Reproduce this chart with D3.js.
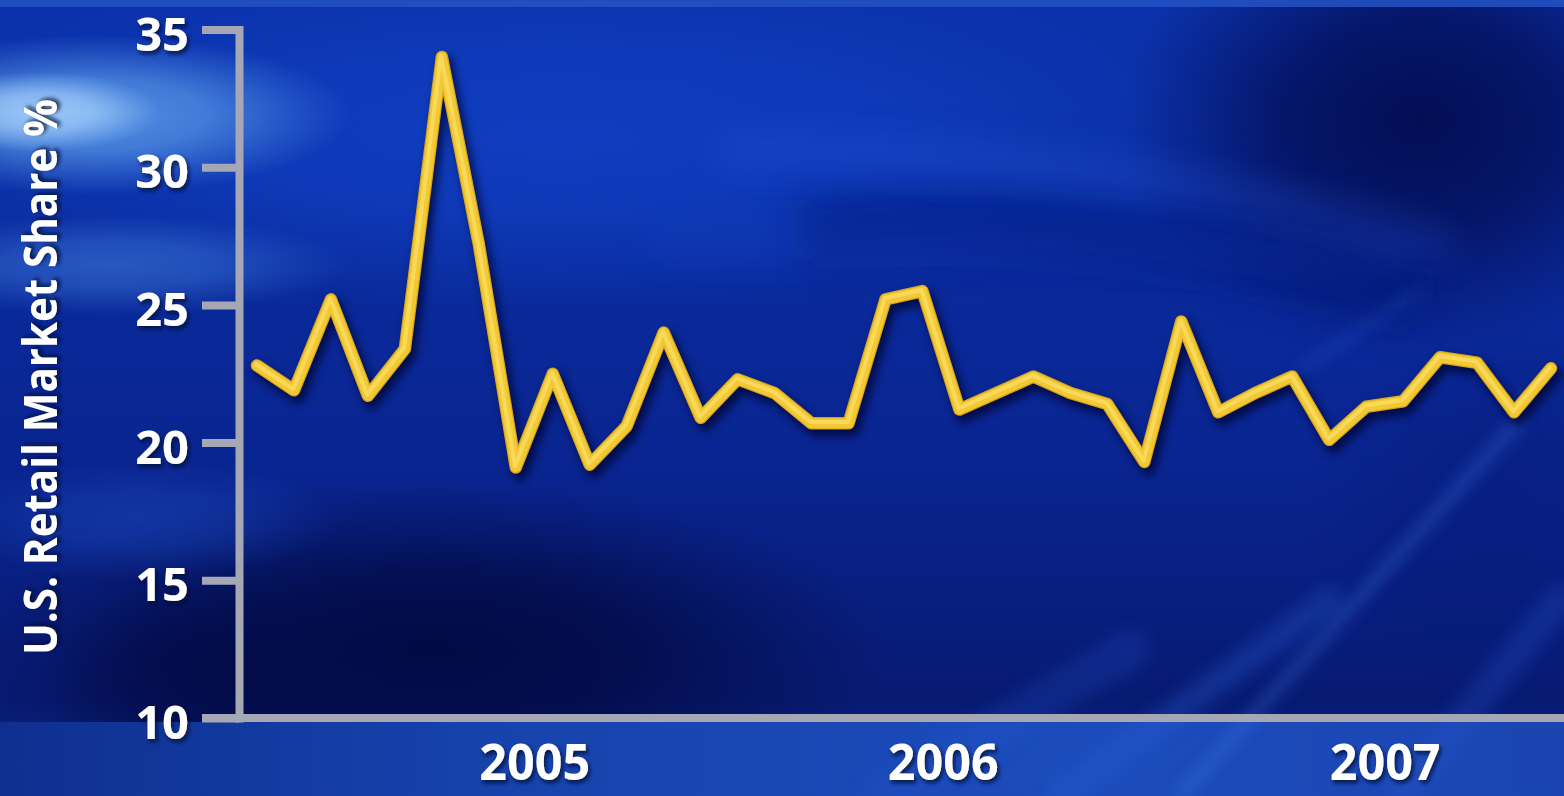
<!DOCTYPE html>
<html>
<head>
<meta charset="utf-8">
<script src="https://cdn.jsdelivr.net/npm/d3@7"></script>
<style>
  html, body { margin: 0; padding: 0; background: #0a2796; }
  svg { display: block; }
  text { font-family: "Open Sans", "DejaVu Sans", sans-serif; font-weight: 700; fill: #ffffff; }
</style>
</head>
<body>
<svg id="chart" width="1564" height="796"></svg>
<script>
// Monthly U.S. retail market share, three years of monthly readings
const shareValues = [
  22.8, 21.9, 25.2, 21.7, 23.4, 34.0, 27.2, 19.1, 22.5, 19.2, 20.6, 24.0,
  20.9, 22.3, 21.8, 20.7, 20.7, 25.2, 25.5, 21.2, 21.8, 22.4, 21.8, 21.4,
  19.3, 24.4, 21.1, 21.8, 22.4, 20.1, 21.3, 21.5, 23.1, 22.9, 21.1, 22.7
];
const yTicks = [10, 15, 20, 25, 30, 35];
const yearLabels = ["2005", "2006", "2007"];
// month index (fractional) where each year label sits
const yearLabelAt = [7.5, 18.55, 30.5];
const yAxisTitle = "U.S. Retail Market Share %";

const W = 1564, H = 796;
const svg = d3.select("#chart");
const defs = svg.append("defs");

// ---------- filters ----------
function blur(id, sd) {
  defs.append("filter").attr("id", id)
    .attr("filterUnits", "userSpaceOnUse")
    .attr("x", -200).attr("y", -200).attr("width", W + 400).attr("height", H + 400)
    .append("feGaussianBlur").attr("stdDeviation", sd);
}
blur("b18", 18); blur("b8", 8); blur("b4", 4);

const ts = defs.append("filter").attr("id", "textShadow")
  .attr("x", "-20%").attr("y", "-20%").attr("width", "140%").attr("height", "140%");
ts.append("feDropShadow").attr("dx", 2).attr("dy", 3).attr("stdDeviation", 2)
  .attr("flood-color", "#000a30").attr("flood-opacity", 0.85);

// ---------- background ----------
const baseGrad = defs.append("linearGradient").attr("id", "baseGrad")
  .attr("x1", 0).attr("y1", 0).attr("x2", 0).attr("y2", 1);
[[0, "#0b32ac"], [0.3, "#0a2b9e"], [0.6, "#09248f"], [0.88, "#071a72"], [1, "#0a2a88"]]
  .forEach(([o, c]) => baseGrad.append("stop").attr("offset", o).attr("stop-color", c));

const bg = svg.append("g").attr("class", "background");
bg.append("rect").attr("width", W).attr("height", H).attr("fill", "url(#baseGrad)");

// soft elliptical glows / shadows drawn with radial gradients
let blobId = 0;
function softBlob(cx, cy, rx, ry, color, opacity) {
  const id = "blob" + (blobId++);
  const g = defs.append("radialGradient").attr("id", id);
  g.append("stop").attr("offset", 0).attr("stop-color", color).attr("stop-opacity", opacity);
  g.append("stop").attr("offset", 0.45).attr("stop-color", color).attr("stop-opacity", opacity * 0.75);
  g.append("stop").attr("offset", 0.8).attr("stop-color", color).attr("stop-opacity", opacity * 0.25);
  g.append("stop").attr("offset", 1).attr("stop-color", color).attr("stop-opacity", 0);
  bg.append("ellipse").attr("cx", cx).attr("cy", cy).attr("rx", rx).attr("ry", ry)
    .attr("fill", `url(#${id})`);
}

// brighter band across the upper plot
softBlob(560, 140, 720, 170, "#1142c8", 0.75);
// dark pocket in the upper right
softBlob(1420, 120, 300, 230, "#020a4c", 0.9);
// deep shadow in the lower left of the plot
softBlob(430, 650, 460, 170, "#02083e", 0.9);
softBlob(200, 680, 160, 100, "#030a46", 0.7);
// dim right side of the plot
softBlob(1500, 520, 200, 200, "#061a78", 0.5);

// darker sweep below the swoosh
bg.append("path").attr("d", "M800,230 Q1100,205 1420,300")
  .attr("fill", "none").attr("stroke", "#061878").attr("stroke-width", 60)
  .attr("opacity", 0.5).attr("filter", "url(#b18)");
// light swoosh curving to the right
bg.append("path").attr("d", "M720,150 Q1150,150 1450,250")
  .attr("fill", "none").attr("stroke", "#2b5ddc").attr("stroke-width", 22)
  .attr("opacity", 0.4).attr("filter", "url(#b18)");
bg.append("path").attr("d", "M650,245 Q1050,235 1400,260")
  .attr("fill", "none").attr("stroke", "#1e4cd0").attr("stroke-width", 18)
  .attr("opacity", 0.3).attr("filter", "url(#b18)");

// left column glow and horizontal light streaks
softBlob(90, 115, 260, 80, "#5a9ae8", 0.9);
softBlob(40, 112, 120, 40, "#b0d8ff", 0.8);
softBlob(110, 265, 240, 50, "#3f7ddc", 0.55);
softBlob(140, 520, 200, 60, "#1c4bc0", 0.45);

// lower strip beneath the baseline
const stripGrad = defs.append("linearGradient").attr("id", "stripGrad")
  .attr("x1", 0).attr("y1", 0).attr("x2", 1).attr("y2", 0);
[[0, "#0f2f90"], [0.3, "#1642ac"], [0.7, "#1c4cbc"], [1, "#1a45b0"]]
  .forEach(([o, c]) => stripGrad.append("stop").attr("offset", o).attr("stop-color", c));
bg.append("rect").attr("x", 0).attr("y", 722).attr("width", W).attr("height", 74)
  .attr("fill", "url(#stripGrad)");

// diagonal light streaks in the lower right
const streaks = [
  { d: "M1180,796 L1520,420", w: 8, c: "#3e78e6", o: 0.5 },
  { d: "M1060,796 L1330,600", w: 26, c: "#2b60d8", o: 0.3 },
  { d: "M1300,370 L1420,290", w: 6, c: "#3a6ee0", o: 0.35 },
  { d: "M880,796 L1130,650", w: 40, c: "#2555cc", o: 0.22 },
  { d: "M1400,796 L1560,600", w: 30, c: "#2a5ad4", o: 0.25 }
];
streaks.forEach(s => bg.append("path").attr("d", s.d).attr("fill", "none")
  .attr("stroke", s.c).attr("stroke-width", s.w).attr("opacity", s.o)
  .attr("stroke-linecap", "round").attr("filter", "url(#b8)"));

// thin brighter band along the top edge
bg.append("rect").attr("x", 0).attr("y", 0).attr("width", W).attr("height", 7)
  .attr("fill", "#2553c4").attr("opacity", 0.85);

// ---------- scales ----------
const x = d3.scaleLinear().domain([0, shareValues.length - 1]).range([257, 1551]);
const y = d3.scaleLinear().domain([10, 35]).range([718, 29.5]);
const axisX = 239;
const axisColor = "#a5a8b4";

// ---------- axes ----------
const yAxis = d3.axisLeft(y).tickValues(yTicks).tickSize(37).tickSizeOuter(0).tickPadding(13);
const gy = svg.append("g").attr("transform", `translate(${axisX},0)`).call(yAxis);
gy.select(".domain").attr("stroke", axisColor).attr("stroke-width", 8).attr("stroke-linecap", "square");
gy.selectAll(".tick line").attr("stroke", axisColor).attr("stroke-width", 8);
gy.selectAll(".tick text")
  .attr("fill", "#ffffff").attr("font-size", 47).attr("dy", "0.44em")
  .attr("font-family", null).attr("filter", "url(#textShadow)");

// baseline running out to the right edge
svg.append("line")
  .attr("x1", axisX - 37).attr("x2", W).attr("y1", y(10)).attr("y2", y(10))
  .attr("stroke", axisColor).attr("stroke-width", 8);

const xAxis = d3.axisBottom(x).tickValues(yearLabelAt)
  .tickFormat((d, i) => yearLabels[i]).tickSize(0).tickPadding(27);
const gx = svg.append("g").attr("transform", `translate(0,${y(10)})`).call(xAxis);
gx.select(".domain").remove();
gx.selectAll(".tick text")
  .attr("fill", "#ffffff").attr("font-size", 50).attr("font-family", null)
  .attr("transform", "scale(0.97,1)").attr("filter", "url(#textShadow)");

// rotated axis title
svg.append("text")
  .attr("transform", "translate(57,377) rotate(-90)")
  .attr("text-anchor", "middle")
  .attr("font-size", 47)
  .attr("textLength", 556).attr("lengthAdjust", "spacingAndGlyphs")
  .attr("filter", "url(#textShadow)")
  .text(yAxisTitle);

// ---------- the series line ----------
const line = d3.line().x((d, i) => x(i)).y(d => y(d));
const pathD = line(shareValues);
const lg = svg.append("g").attr("fill", "none")
  .attr("stroke-linejoin", "round").attr("stroke-linecap", "round");

lg.append("path").attr("d", pathD)
  .attr("transform", "translate(4,6)")
  .attr("stroke", "#000628").attr("stroke-width", 14).attr("opacity", 0.7)
  .attr("filter", "url(#b4)");
lg.append("path").attr("d", pathD)
  .attr("stroke", "#d6a51f").attr("stroke-width", 12.5);
lg.append("path").attr("d", pathD)
  .attr("stroke", "#f2c934").attr("stroke-width", 10);
lg.append("path").attr("d", pathD)
  .attr("transform", "translate(-0.8,-1.2)")
  .attr("stroke", "#fbe06a").attr("stroke-width", 4).attr("opacity", 0.7);
</script>
</body>
</html>
